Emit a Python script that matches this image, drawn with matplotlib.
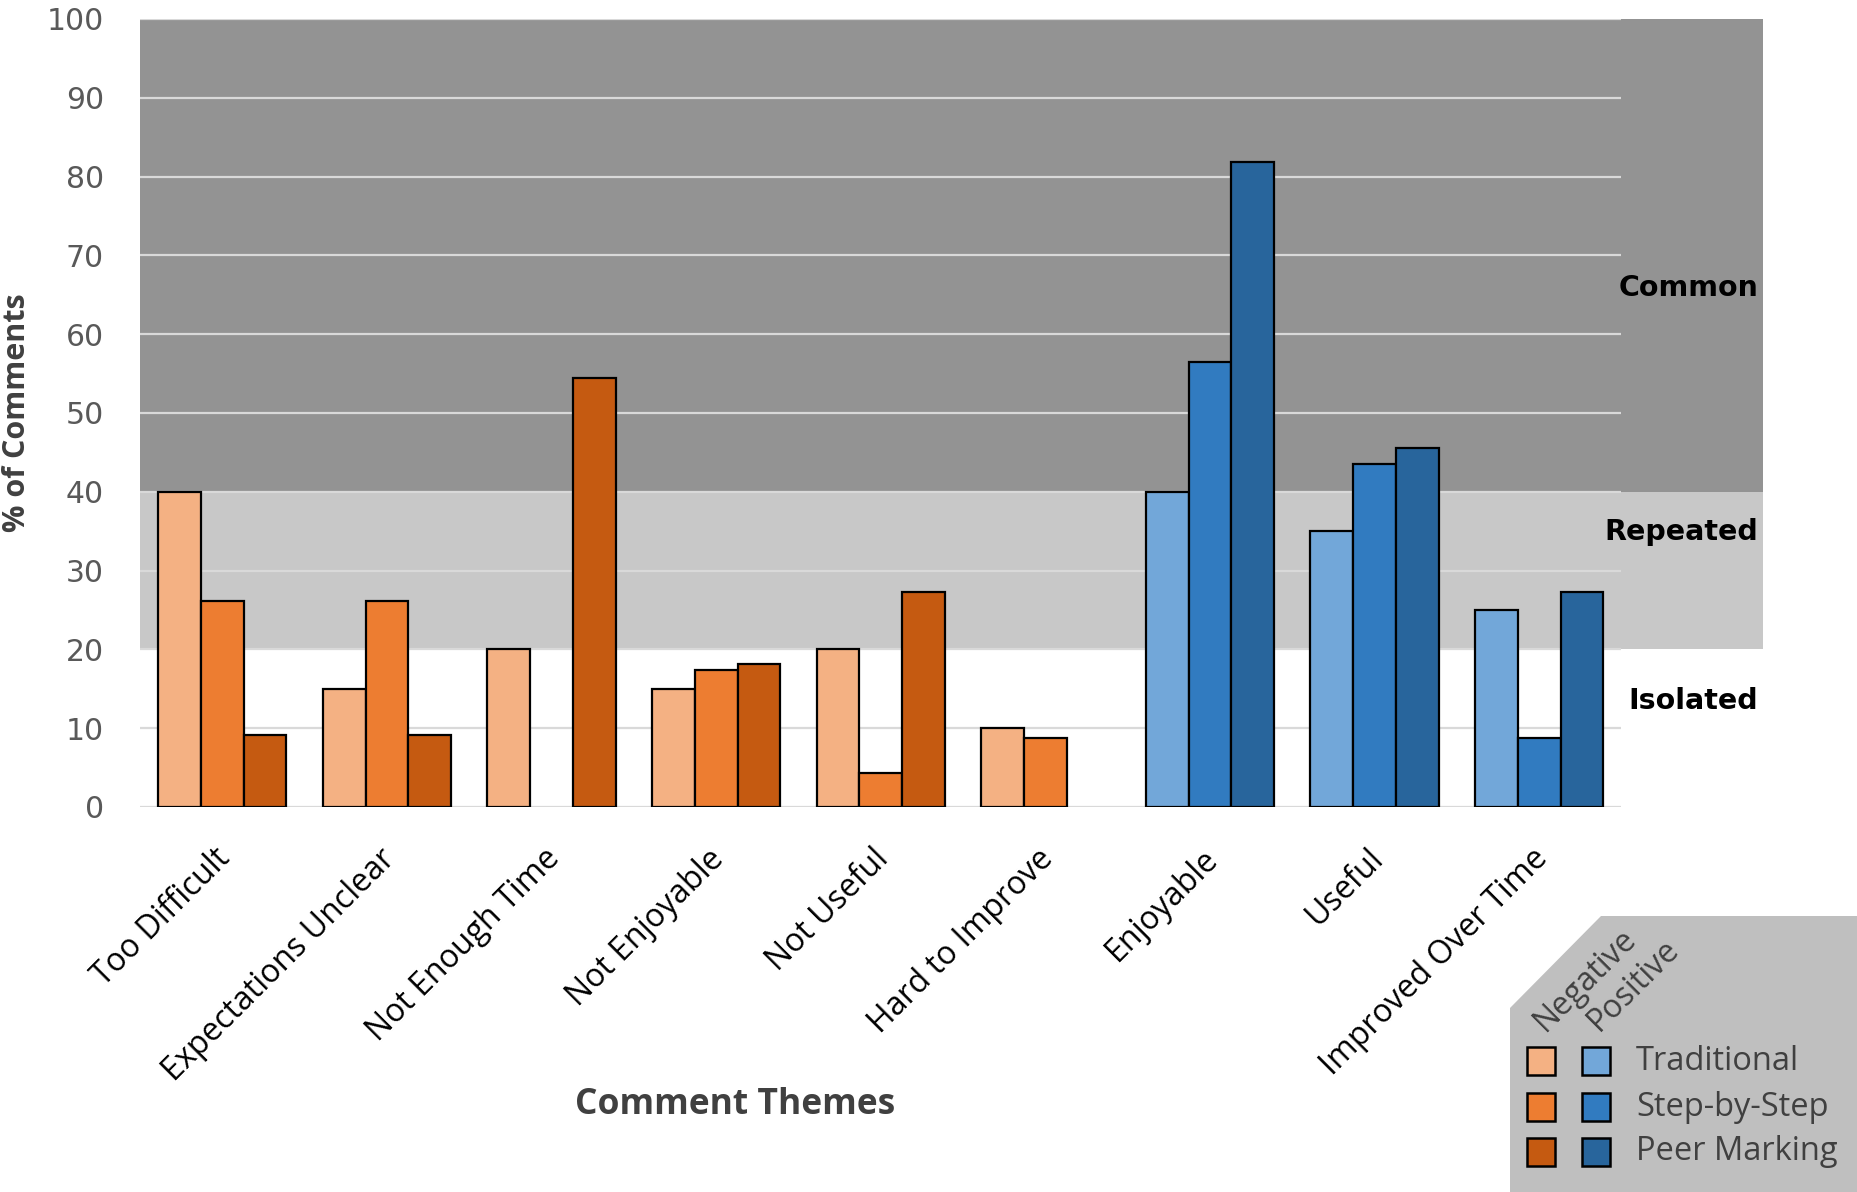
import matplotlib
matplotlib.use("Agg")
import matplotlib.pyplot as plt
from matplotlib.patches import Polygon, Rectangle
from matplotlib.transforms import blended_transform_factory
import numpy as np

# ---- data -------------------------------------------------------------
themes = ["Too Difficult", "Expectations Unclear", "Not Enough Time",
          "Not Enjoyable", "Not Useful", "Hard to Improve",
          "Enjoyable", "Useful", "Improved Over Time"]
is_positive = [False, False, False, False, False, False, True, True, True]

traditional = [40, 15, 20, 15, 20, 10, 40, 35, 25]
step_by_step = [26.1, 26.1, 0, 17.4, 4.3, 8.7, 56.5, 43.5, 8.7]
peer_marking = [9.1, 9.1, 54.5, 18.2, 27.3, 0, 81.8, 45.5, 27.3]

methods = ["Traditional", "Step-by-Step", "Peer Marking"]
neg_colors = ["#f4b183", "#ed7d31", "#c55a11"]
pos_colors = ["#72a7d9", "#317bc0", "#28659c"]

bands = [(0, 20, "Isolated", None), (20, 40, "Repeated", "#c8c8c8"),
         (40, 100, "Common", "#939393")]
y_ticks = list(range(0, 101, 10))

# ---- figure -----------------------------------------------------------
W, H = 1858, 1192
fig = plt.figure(figsize=(W / 100, H / 100), dpi=100)
ax_left, ax_right = 140 / W, 1763 / W
ax_bottom, ax_top = 1 - 807 / H, 1 - 19 / H
ax = fig.add_axes([ax_left, ax_bottom, ax_right - ax_left, ax_top - ax_bottom])

n = len(themes)
x_min, x_grid_max, x_max = -0.5, n - 0.5, 9.36
ax.set_xlim(x_min, x_max)
ax.set_ylim(0, 100)
for s in ax.spines.values():
    s.set_visible(False)

# frequency bands
for lo, hi, name, col in bands:
    if col:
        ax.add_patch(Rectangle((x_min, lo), x_max - x_min, hi - lo,
                               facecolor=col, edgecolor="none", zorder=0))

# gridlines
for t in y_ticks:
    ax.hlines(t, x_min, x_grid_max, colors="#d9d9d9", linewidth=1.6, zorder=1)

# bars (no outline for empty bars)
bw = 0.26
x = np.arange(n)
series = [traditional, step_by_step, peer_marking]
for k, vals in enumerate(series):
    cols = [pos_colors[k] if p else neg_colors[k] for p in is_positive]
    lws = [1.6 if v > 0 else 0 for v in vals]
    ax.bar(x + (k - 1) * bw, vals, width=bw, color=cols,
           edgecolor="black", linewidth=lws, zorder=2)

# band labels
band_label_y = {"Common": 65.8, "Repeated": 34.9, "Isolated": 13.5}
for lo, hi, name, col in bands:
    ax.text(9.33, band_label_y[name], name, ha="right", va="center",
            fontsize=20.5, fontweight="bold", family="DejaVu Sans",
            color="black", zorder=3)

# y axis
ax.set_yticks(y_ticks)
ax.set_yticklabels([str(t) for t in y_ticks], fontsize=21.5,
                   family="DejaVu Sans", color="#595959")
ax.tick_params(axis="y", length=0, pad=26)
ax.set_xticks([])

# category labels
trans = blended_transform_factory(ax.transData, ax.transAxes)
for i, name in enumerate(themes):
    ax.text(i - 0.05, -0.045, name, rotation=45, rotation_mode="anchor",
            ha="right", va="top", fontsize=23, family="Open Sans",
            color="black", transform=trans, clip_on=False)

# axis titles
fig.text(17 / W, 1 - 413 / H, "% of Comments", rotation=90, ha="center",
         va="center", fontsize=22, fontweight="bold", family="Open Sans",
         color="#404040")
fig.text(735 / W, 1 - 1105 / H, "Comment Themes", ha="center", va="center",
         fontsize=25.5, fontweight="bold", family="Open Sans", color="#404040")

# legend panel with cut corner
def fx(px):
    return px / W

def fy(py):
    return 1 - py / H

panel = [(1510, 1008), (1601, 916), (1858, 916), (1858, 1192), (1510, 1192)]
fig.add_artist(Polygon([(fx(a), fy(b)) for a, b in panel], closed=True,
                       facecolor="#bfbfbf", edgecolor="none",
                       transform=fig.transFigure, zorder=0))
fig.text(fx(1585), fy(980), "Negative", rotation=45, ha="center", va="center",
         fontsize=23, family="Open Sans", color="#404040")
fig.text(fx(1634), fy(985), "Positive", rotation=45, ha="center", va="center",
         fontsize=23, family="Open Sans", color="#404040")
sq = 28
rows_y = [1061, 1107, 1152]
for k, name in enumerate(methods):
    cy = rows_y[k]
    for cx, col in ((1541, neg_colors[k]), (1596, pos_colors[k])):
        fig.add_artist(Rectangle((fx(cx - sq / 2), fy(cy + sq / 2)),
                                 sq / W, sq / H, facecolor=col,
                                 edgecolor="black", linewidth=1.8,
                                 transform=fig.transFigure))
    fig.text(fx(1636), fy(cy), name, ha="left", va="center", fontsize=23.5,
             family="Open Sans", color="#404040")

fig.savefig("out.png", dpi=100)
